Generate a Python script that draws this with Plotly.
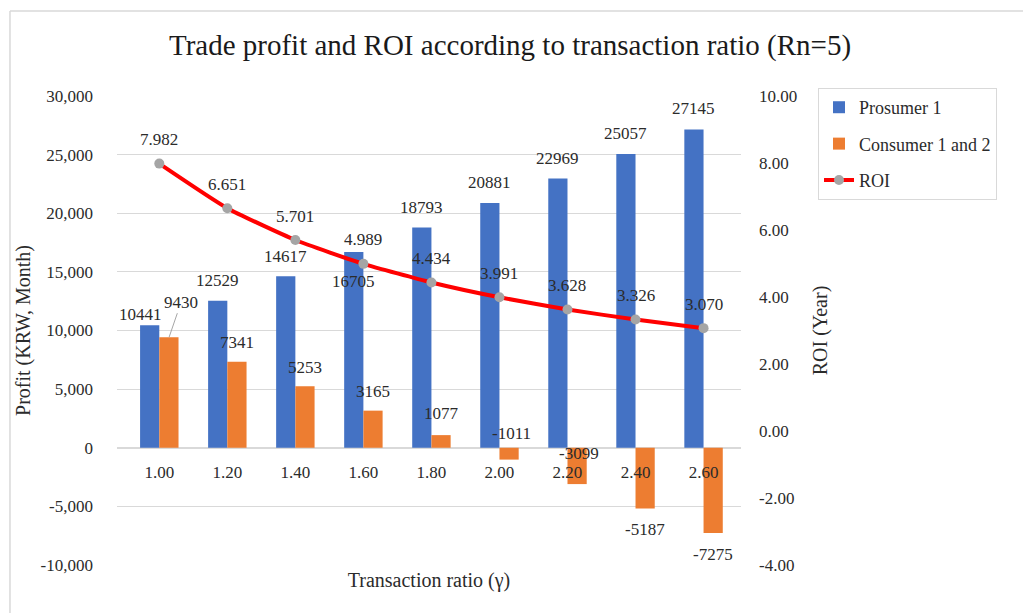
import plotly.graph_objects as go

# ---------------- data ----------------
categories = ["1.00", "1.20", "1.40", "1.60", "1.80", "2.00", "2.20", "2.40", "2.60"]
prosumer = [10441, 12529, 14617, 16705, 18793, 20881, 22969, 25057, 27145]
consumer = [9430, 7341, 5253, 3165, 1077, -1011, -3099, -5187, -7275]
roi = [7.982, 6.651, 5.701, 4.989, 4.434, 3.991, 3.628, 3.326, 3.070]

profit_ticks = [-10000, -5000, 0, 5000, 10000, 15000, 20000, 25000, 30000]
roi_ticks = [-4, -2, 0, 2, 4, 6, 8, 10]

# ---------------- label placement (style only, pixels) ----------------
prosumer_dx = [-9, 0, 0, 0, 0, 0, 0, 0, 0]
prosumer_dy = [11, 20, 20, -30, 20, 20, 20, 20, 21]
consumer_dx = [0, 0, 0, 0, 0, 2, 2, 0, 0]
consumer_dy = [0, 19, 19, 19, 22, 26, 31, -21, -21]
roi_dy = 24

FONT = "Liberation Serif"
TXT = "#2b2b2b"
BLUE = "#4472c4"
ORANGE = "#ed7d31"
GRID = "#d9d9d9"
BAR_HALF = 9.8  # px offset of each bar center from category center

fig = go.Figure()
fig.add_trace(go.Bar(x=categories, y=prosumer, name="Prosumer 1",
                     marker=dict(color=BLUE, line=dict(width=0)),
                     legendgroup="a", yaxis="y"))
fig.add_trace(go.Bar(x=categories, y=consumer, name="Consumer 1 and 2",
                     marker=dict(color=ORANGE, line=dict(width=0)),
                     legendgroup="b", yaxis="y"))
fig.add_trace(go.Scatter(x=categories, y=roi, name="ROI", mode="lines+markers",
                         line=dict(color="#ff0000", width=4, shape="spline", smoothing=0.5),
                         marker=dict(color="#a5a5a5", size=10),
                         legendgroup="c", yaxis="y2"))

ann = []
lab_font = dict(family=FONT, size=17, color=TXT)
for i, c in enumerate(categories):
    ann.append(dict(x=i, y=prosumer[i], xref="x", yref="y", text=str(prosumer[i]),
                    showarrow=False, xshift=-BAR_HALF + prosumer_dx[i],
                    yshift=prosumer_dy[i], font=lab_font))
    if i == 0:
        ann.append(dict(x=i, y=consumer[i], xref="x", yref="y", text=str(consumer[i]),
                        showarrow=True, arrowhead=0, arrowwidth=1, arrowcolor="#a6a6a6",
                        ax=12, ay=-35, xshift=BAR_HALF, font=lab_font))
    else:
        ann.append(dict(x=i, y=consumer[i], xref="x", yref="y", text=str(consumer[i]),
                        showarrow=False, xshift=BAR_HALF + consumer_dx[i],
                        yshift=consumer_dy[i], font=lab_font))
    ann.append(dict(x=i, y=roi[i], xref="x", yref="y2", text=f"{roi[i]:.3f}",
                    showarrow=False, yshift=roi_dy, font=lab_font))

fig.update_layout(
    width=1031, height=613,
    margin=dict(l=109, r=298, t=88, b=56, autoexpand=False),
    paper_bgcolor="white", plot_bgcolor="white",
    font=dict(family=FONT, size=17, color=TXT),
    title=dict(text="Trade profit and ROI according to transaction ratio (Rn=5)",
               x=0.4869, xanchor="center", xref="container",
               y=0.9396, yanchor="middle", yref="container",
               font=dict(family=FONT, size=29, color="#1a1a1a")),
    barmode="group", bargap=0.435, bargroupgap=0,
    xaxis=dict(type="category", anchor="free", position=0.25,
               showline=False, showgrid=False, zeroline=False, ticks="",
               ticklabelstandoff=12,
               tickfont=dict(family=FONT, size=17, color=TXT),
               title=dict(text="Transaction ratio (γ)", standoff=92,
                          font=dict(family=FONT, size=20, color=TXT))),
    yaxis=dict(range=[-10000, 30000], tickvals=profit_ticks,
               ticktext=[f"{v:,}" for v in profit_ticks],
               showgrid=True, gridcolor=GRID, gridwidth=1,
               zeroline=True, zerolinecolor=GRID, zerolinewidth=1.5,
               showline=False, ticks="", ticklabelstandoff=23,
               tickfont=dict(family=FONT, size=17, color=TXT),
               title=dict(text="Profit (KRW, Month)", standoff=4,
                          font=dict(family=FONT, size=20, color=TXT))),
    yaxis2=dict(range=[-4, 10], tickvals=roi_ticks,
                ticktext=[f"{v:.2f}" for v in roi_ticks],
                overlaying="y", side="right",
                showgrid=False, zeroline=False, showline=False, ticks="",
                ticklabelstandoff=17,
                tickfont=dict(family=FONT, size=17, color=TXT),
                title=dict(text="ROI (Year)", standoff=16,
                           font=dict(family=FONT, size=20, color=TXT))),
    legend=dict(x=1.1234, xanchor="left", y=1.017, yanchor="top",
                bordercolor=GRID, borderwidth=1, bgcolor="white",
                traceorder="grouped", tracegroupgap=10,
                font=dict(family=FONT, size=18, color=TXT)),
    annotations=ann,
    shapes=[
        dict(type="line", xref="paper", yref="paper", x0=-0.1715, x1=1.47, y0=1.181, y1=1.181,
             line=dict(color="#d9d9d9", width=1.5)),
        dict(type="line", xref="paper", yref="paper", x0=-0.1715, x1=-0.1715, y0=1.181, y1=-0.11,
             line=dict(color="#d9d9d9", width=1.5)),
    ],
)

fig.write_html("out.html")
